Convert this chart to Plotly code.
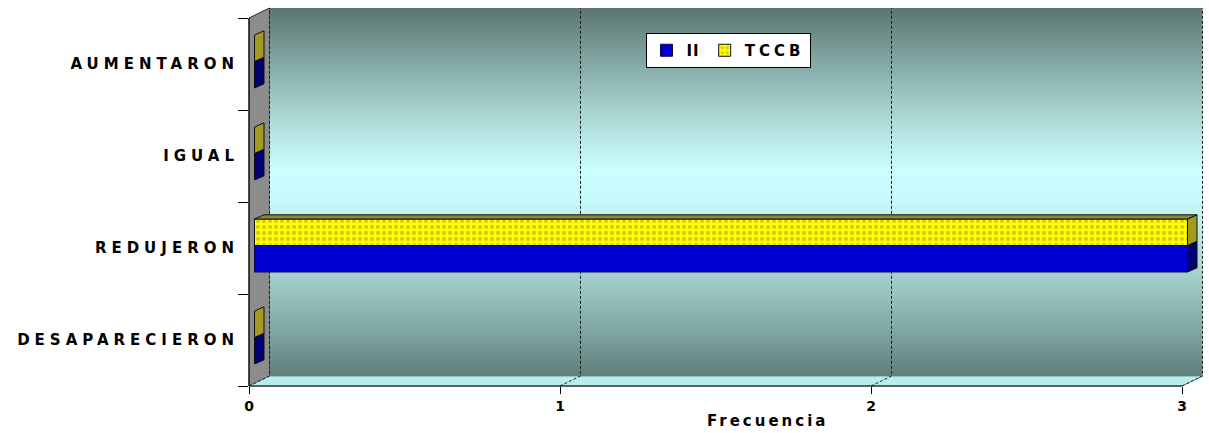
import plotly.graph_objects as go

# ---- data -------------------------------------------------------------
categories = ["DESAPARECIERON", "REDUJERON", "IGUAL", "AUMENTARON"]
ii_values = [0, 3, 0, 0]
tccb_values = [0, 3, 0, 0]
series_names = ["II", "TCCB"]
x_ticks = [0, 1, 2, 3]
x_tick_labels = ["0", "1", "2", "3"]
x_title = "Frecuencia"

# ---- page / box geometry (pixels) --------------------------------------
FIG_W, FIG_H = 1209, 433
M_L, M_R, M_T, M_B = 249, 3, 8, 47
PLOT_W = FIG_W - M_L - M_R
PLOT_H = FIG_H - M_T - M_B
PX_PER_X = 311.0          # pixels per unit of frequency
PX_PER_CAT = 92.0         # pixels per category band
WALL_DX, WALL_DY = 20.5, 10.0     # depth of the 3-D box
BAR_DX0, BAR_DY0 = 5.5, 2.5       # bars sit a little inside the box
BAR_DX, BAR_DY = 9.5, 4.2         # depth of each bar
GROUP_W = 0.576                   # share of a band used by the bar pair

# front plane axes (ticks, walls, grid)
xA = [0.0, PLOT_W / PX_PER_X]
yA = [-0.5, -0.5 + PLOT_H / PX_PER_CAT]
# bar plane axes, shifted into the box
xB = [v - BAR_DX0 / PX_PER_X for v in xA]
yB = [v - BAR_DY0 / PX_PER_CAT for v in yA]

DXA = WALL_DX / PX_PER_X
DYA = WALL_DY / PX_PER_CAT
DXB = BAR_DX / PX_PER_X
DYB = BAR_DY / PX_PER_CAT

x_max = max(x_ticks)
n_cat = len(categories)
cat_idx = list(range(n_cat))
y_front_lo, y_front_hi = -0.5, n_cat - 0.5
y_back_lo, y_back_hi = y_front_lo + DYA, yA[1]

FONT = "DejaVu Sans"


def to_paper(x, y):
    return ((x - xA[0]) / (xA[1] - xA[0]), (y - yA[0]) / (yA[1] - yA[0]))


def paper_path(points):
    pts = [to_paper(x, y) for x, y in points]
    return "M " + " L ".join(f"{px:.5f},{py:.5f}" for px, py in pts) + " Z"


def spaced(text, px):
    return f'<b><span style="letter-spacing:{px}px">{text}</span></b>'


fig = go.Figure()

# back wall with its vertical light band
fig.add_trace(go.Scatter(
    x=[DXA, x_max + DXA, x_max + DXA, DXA, DXA],
    y=[y_back_lo, y_back_lo, y_back_hi, y_back_hi, y_back_lo],
    fill="toself", mode="none",
    fillgradient=dict(
        type="vertical", start=y_back_lo, stop=y_back_hi,
        colorscale=[[0.0, "#5f7f7b"], [0.12, "#7ea6a2"], [0.3, "#a9d6d3"],
                    [0.47, "#c6f9f9"], [0.56, "#ccffff"], [0.7, "#acd9d6"],
                    [0.85, "#84a9a5"], [1.0, "#5b7571"]]),
    hoverinfo="skip", showlegend=False,
))

# dashed grid: diagonal on the floor, vertical on the back wall
gx, gy = [], []
for k in x_ticks:
    gx += [k, k + DXA, k + DXA, None]
    gy += [y_front_lo, y_back_lo, y_back_hi, None]
fig.add_trace(go.Scatter(
    x=gx, y=gy, mode="lines",
    line=dict(color="#1a1a1a", width=1, dash="3px,2px"),
    hoverinfo="skip", showlegend=False,
))

# bars (front faces)
fig.add_trace(go.Bar(
    name=spaced(series_names[0], 1), orientation="h",
    x=ii_values, y=cat_idx, xaxis="x2", yaxis="y2",
    width=GROUP_W / 2, offset=-GROUP_W / 2,
    marker=dict(color="#0000d2", line=dict(color="#0a0a3a", width=1)),
    hoverinfo="skip",
))
fig.add_trace(go.Bar(
    name=spaced(series_names[1], 4), orientation="h",
    x=tccb_values, y=cat_idx, xaxis="x2", yaxis="y2",
    width=GROUP_W / 2, offset=0,
    marker=dict(color="#ffff00",
                pattern=dict(shape=".", fgcolor="#a89c30", size=6,
                             solidity=0.4, fillmode="overlay"),
                line=dict(color="#101010", width=1)),
    hoverinfo="skip",
))

shapes = []
# left wall
shapes.append(dict(
    type="path", xref="paper", yref="paper", layer="below",
    path=paper_path([(0, y_front_lo), (0, y_front_hi), (DXA, y_back_hi), (DXA, y_back_lo)]),
    fillcolor="#8c8c8c", line=dict(color="#2a2a2a", width=1),
))
# floor
shapes.append(dict(
    type="path", xref="paper", yref="paper", layer="below",
    path=paper_path([(0, y_front_lo), (x_max, y_front_lo), (x_max + DXA, y_back_lo), (DXA, y_back_lo)]),
    fillcolor="#b8eeee", line=dict(color="#6f9894", width=1),
))
# axis lines on the front plane
fx0, fy0 = to_paper(0, y_front_lo)
fx1, _ = to_paper(x_max, y_front_lo)
_, fy1 = to_paper(0, y_front_hi)
shapes.append(dict(type="line", xref="paper", yref="paper", layer="above",
                   x0=fx0, y0=fy0, x1=fx1, y1=fy0, line=dict(color="black", width=1)))
shapes.append(dict(type="line", xref="paper", yref="paper", layer="above",
                   x0=fx0, y0=fy0, x1=fx0, y1=fy1, line=dict(color="black", width=1)))

# 3-D side and top faces of the bars
side_cols = ["#000070", "#a39a22"]
top_cols = ["#00008a", "#8e892e"]
for c, v_lo, v_hi in zip(cat_idx, ii_values, tccb_values):
    parts = [(v_lo, c - GROUP_W / 2, c, 0), (v_hi, c, c + GROUP_W / 2, 1)]
    for v, y0, y1, s in parts:
        shapes.append(dict(
            type="path", xref="x2", yref="y2", layer="above",
            path=(f"M {v},{y0} L {v + DXB},{y0 + DYB} L {v + DXB},{y1 + DYB} "
                  f"L {v},{y1} Z"),
            fillcolor=side_cols[s], line=dict(color="#101010", width=1),
        ))
    # top face of the upper bar, plus any part of the lower one sticking out
    top_y = c + GROUP_W / 2
    if v_hi > 0:
        shapes.append(dict(
            type="path", xref="x2", yref="y2", layer="above",
            path=(f"M 0,{top_y} L {v_hi},{top_y} L {v_hi + DXB},{top_y + DYB} "
                  f"L {DXB},{top_y + DYB} Z"),
            fillcolor=top_cols[1], line=dict(color="#101010", width=1),
        ))
    if v_lo > v_hi:
        shapes.append(dict(
            type="path", xref="x2", yref="y2", layer="above",
            path=(f"M {v_hi},{c} L {v_lo},{c} L {v_lo + DXB},{c + DYB} "
                  f"L {v_hi + DXB},{c + DYB} Z"),
            fillcolor=top_cols[0], line=dict(color="#101010", width=1),
        ))

tick_font = dict(family=FONT, size=15, color="black")

fig.update_layout(
    width=FIG_W, height=FIG_H,
    margin=dict(l=M_L, r=M_R, t=M_T, b=M_B, pad=0),
    paper_bgcolor="white", plot_bgcolor="white",
    barmode="overlay",
    shapes=shapes,
    xaxis=dict(
        range=xA, tickmode="array", tickvals=x_ticks,
        ticktext=[f"<b>{t}</b>" for t in x_tick_labels],
        ticks="outside", ticklen=7, tickcolor="black", tickwidth=1,
        showgrid=False, zeroline=False, showline=False, fixedrange=True,
        tickfont=dict(family=FONT, size=14, color="black"),
    ),
    yaxis=dict(
        range=yA, tickmode="array", tickvals=cat_idx,
        ticktext=[spaced(c, 5) for c in categories],
        ticks="", showgrid=False, zeroline=False, showline=False, fixedrange=True,
        tickfont=tick_font, ticklabelstandoff=9,
        minor=dict(tickmode="array",
                   tickvals=[i - 0.5 for i in range(n_cat + 1)],
                   ticks="outside", ticklen=10, tickcolor="black", tickwidth=1,
                   showgrid=False),
    ),
    xaxis2=dict(range=xB, overlaying="x", visible=False, fixedrange=True),
    yaxis2=dict(range=yB, overlaying="y", visible=False, fixedrange=True),
    legend=dict(
        orientation="h", x=(728 - M_L) / PLOT_W, xanchor="center",
        y=(M_T + PLOT_H - 33) / PLOT_H, yanchor="top",
        bgcolor="white", bordercolor="black", borderwidth=1,
        font=dict(family=FONT, size=15, color="black"), itemwidth=30,
    ),
    annotations=[dict(
        text=spaced(x_title, 3), xref="paper", yref="paper",
        x=(767 - M_L) / PLOT_W, y=(M_T + PLOT_H - 421) / PLOT_H,
        xanchor="center", yanchor="middle", showarrow=False,
        font=tick_font,
    )],
    showlegend=True,
)

fig.write_html("out.html")
